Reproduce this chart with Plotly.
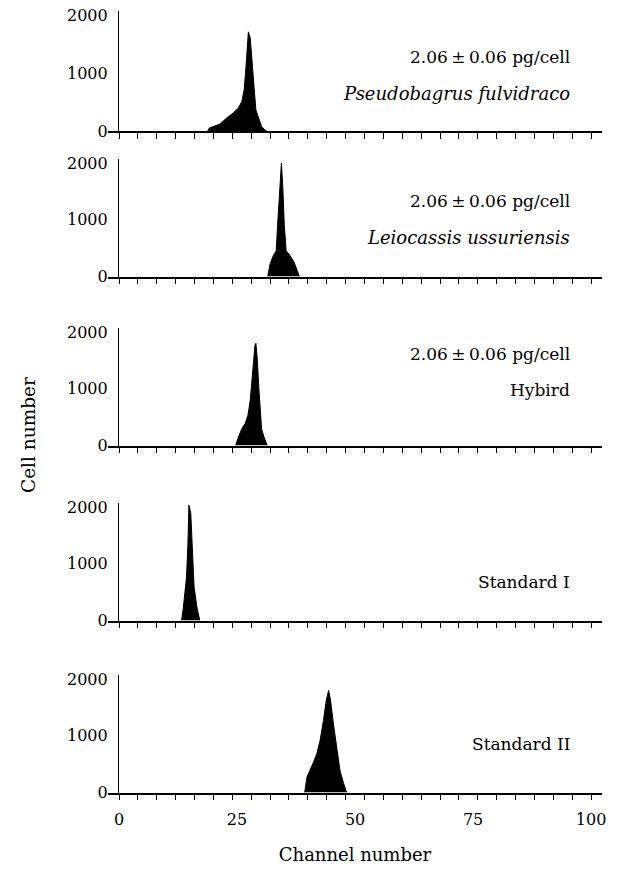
import plotly.graph_objects as go

# ---- data ----
p1_x = [18.8, 19.1, 21.4, 22.8, 24.2, 25.3, 26.0, 26.5, 26.9, 27.2, 27.4, 27.8, 28.1, 28.6, 29.0, 29.5, 30.2, 30.9, 31.3]
p1_y = [0, 50, 120, 225, 310, 400, 505, 705, 1110, 1400, 1710, 1600, 1225, 765, 360, 225, 75, 17, 0]

p2_x = [31.5, 31.6, 32.0, 32.7, 33.3, 33.6, 33.9, 34.2, 34.4, 34.7, 35.0, 35.4, 36.2, 37.1, 37.6, 38.1, 38.2]
p2_y = [0, 45, 220, 370, 455, 920, 1390, 1800, 2000, 1560, 920, 455, 370, 250, 135, 45, 0]

p3_x = [24.7, 24.8, 25.3, 26.0, 26.7, 27.3, 27.8, 28.1, 28.5, 28.8, 29.0, 29.3, 29.6, 29.9, 30.2, 30.7, 31.3, 31.4]
p3_y = [0, 30, 150, 295, 385, 530, 800, 1090, 1415, 1770, 1800, 1505, 1030, 620, 295, 150, 30, 0]

p4_x = [13.2, 13.3, 13.6, 14.0, 14.3, 14.6, 14.8, 15.2, 15.5, 15.9, 16.5, 17.0, 17.1]
p4_y = [0, 30, 207, 473, 767, 1360, 2030, 1890, 1180, 590, 236, 30, 0]

p5_x = [39.3, 39.4, 39.8, 40.5, 41.2, 41.9, 42.6, 43.3, 43.9, 44.4, 44.8, 45.4, 46.1, 46.8, 47.5, 48.1, 48.2]
p5_y = [0, 40, 270, 390, 535, 685, 920, 1270, 1625, 1800, 1625, 1220, 805, 390, 180, 40, 0]

series_x = [p1_x, p2_x, p3_x, p4_x, p5_x]
series_y = [p1_y, p2_y, p3_y, p4_y, p5_y]

value_label = "2.06\u2009\u00b1\u20090.06 pg/cell"
panel_labels = [
    [value_label, "<i>Pseudobagrus fulvidraco</i>"],
    [value_label, "<i>Leiocassis ussuriensis</i>"],
    [value_label, "Hybird"],
    ["Standard I"],
    ["Standard II"],
]
y_ticks = [0, 1000, 2000]
x_ticks = [0, 25, 50, 75, 100]
minor_ticks = list(range(0, 101, 4))

# ---- layout geometry (pixels) ----
W, H = 617, 869
FONT = "DejaVu Serif"
panel_bottom = [131, 276.5, 445.5, 620.5, 792.5]
panel_top = [11, 159, 328, 503, 675]
label_y = [[57, 93], [201, 238], [354, 390], [582], [744]]
x_left_px, x_right_px = 108, 602
yaxis_px = 118

fig = go.Figure()
layout = dict(
    width=W, height=H,
    margin=dict(l=0, r=0, t=0, b=0, pad=0),
    paper_bgcolor="white", plot_bgcolor="white",
    showlegend=False,
    font=dict(family=FONT, size=16, color="black"),
)

annotations = []
for i in range(5):
    n = i + 1
    xa = "x" if n == 1 else f"x{n}"
    ya = "y" if n == 1 else f"y{n}"
    fig.add_trace(go.Scatter(
        x=series_x[i], y=series_y[i], xaxis=xa, yaxis=ya,
        mode="lines", line=dict(color="black", width=1),
        fill="tozeroy", fillcolor="black", hoverinfo="skip",
    ))
    layout[f"xaxis{'' if n == 1 else n}"] = dict(
        domain=[x_left_px / W, x_right_px / W],
        range=[-2.33, 102.3], anchor=ya,
        showline=True, linecolor="black", linewidth=1.5,
        ticks="outside", tickvals=minor_ticks, ticklen=6, tickwidth=1, tickcolor="black",
        showticklabels=False, showgrid=False, zeroline=False, fixedrange=True,
        automargin=False,
    )
    layout[f"yaxis{'' if n == 1 else n}"] = dict(
        domain=[1 - panel_bottom[i] / H, 1 - panel_top[i] / H],
        range=[0, 2070], anchor="free", position=yaxis_px / W,
        showline=True, linecolor="black", linewidth=1.2,
        tickvals=y_ticks, ticks="outside", ticklen=7, tickcolor="rgba(0,0,0,0)",
        tickfont=dict(family=FONT, size=16, color="black"),
        showgrid=False, zeroline=False, fixedrange=True,
        automargin=False,
    )
    for txt, yy in zip(panel_labels[i], label_y[i]):
        italic = txt.startswith("<i>")
        annotations.append(dict(
            text=txt, xref="paper", yref="paper", x=572 / W, y=1 - yy / H,
            xanchor="right", yanchor="middle", showarrow=False,
            font=dict(family=FONT, size=18 if italic else 17, color="black"),
        ))

# tick-label axis for the bottom panel
fig.add_trace(go.Scatter(x=[None], y=[None], xaxis="x6", yaxis="y5", hoverinfo="skip"))
layout["xaxis6"] = dict(
    domain=[x_left_px / W, x_right_px / W], range=[-2.33, 102.3],
    overlaying="x5", anchor="y5", side="bottom",
    tickvals=x_ticks, ticks="outside", ticklen=12, tickcolor="rgba(0,0,0,0)",
    tickfont=dict(family=FONT, size=16, color="black"),
    showline=False, showgrid=False, zeroline=False, fixedrange=True,
    title=dict(text="Channel number", font=dict(family=FONT, size=18, color="black"), standoff=20),
    automargin=False,
)

annotations.append(dict(
    text="Cell number", xref="paper", yref="paper", x=28 / W, y=1 - 435 / H,
    xanchor="center", yanchor="middle", textangle=-90, showarrow=False,
    font=dict(family=FONT, size=18.5, color="black"),
))
layout["annotations"] = annotations
fig.update_layout(**layout)
fig.write_html("out.html", config={"displayModeBar": False},
               post_script="document.body.style.margin='0';")
